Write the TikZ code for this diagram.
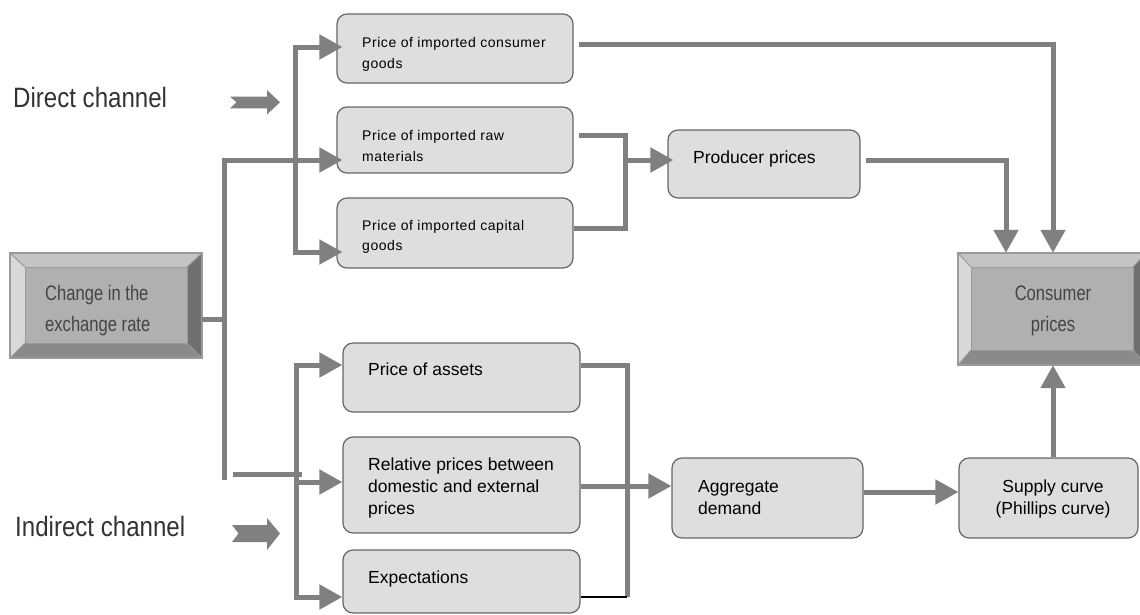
\documentclass[tikz,border=0pt]{standalone}
\usepackage{fontspec}
\setmainfont{Liberation Sans}
\newfontfamily\spc[LetterSpace=4]{Liberation Sans}
\usepackage{graphicx}
\usetikzlibrary{arrows.meta,calc}
\definecolor{conn}{HTML}{808080}
\definecolor{boxfill}{HTML}{DEDEDE}
\definecolor{boxline}{HTML}{666666}
\definecolor{bvtop}{HTML}{C4C4C4}
\definecolor{bvleft}{HTML}{D9D9D9}
\definecolor{bvright}{HTML}{707070}
\definecolor{bvbot}{HTML}{8A8A8A}
\definecolor{bvin}{HTML}{B0B0B0}
\definecolor{bvline}{HTML}{9A9A9A}
\definecolor{bvtext}{HTML}{454545}
\definecolor{chtext}{HTML}{333333}
\newcommand\twol[2]{\vtop{\hbox{#1}\hbox{#2}}}
\newcommand\threel[3]{\vtop{\hbox{#1}\hbox{#2}\hbox{#3}}}
\newcommand\twoc[2]{\vtop{\halign{\hfil##\hfil\cr#1\cr#2\cr}}}
\newcommand\nar[1]{\scalebox{0.79}[1]{#1}}
\newcommand\wide[1]{\scalebox{0.86}[1]{#1}}
% bevel faces: x1 y1 x2 y2 (outer)  a1 b1 a2 b2 (inner)
\newcommand\bevfaces[8]{%
  \fill[bvtop] (#1,#2) -- (#3,#2) -- (#7,#6) -- (#5,#6) -- cycle;
  \fill[bvleft] (#1,#2) -- (#5,#6) -- (#5,#8) -- (#1,#4) -- cycle;
  \fill[bvright] (#3,#2) -- (#3,#4) -- (#7,#8) -- (#7,#6) -- cycle;
  \fill[bvbot] (#1,#4) -- (#3,#4) -- (#7,#8) -- (#5,#8) -- cycle;
  \draw[bvline, line width=1pt] (#1,#2) -- (#5,#6) (#3,#2) -- (#7,#6) (#1,#4) -- (#5,#8) (#3,#4) -- (#7,#8);
  \draw[bvline, line width=1.2pt] (#1,#2) rectangle (#3,#4);
  \filldraw[fill=bvin, draw=bvline, line width=1pt] (#5,#6) rectangle (#7,#8);
}
\tikzset{
  box/.style={draw=boxline, fill=boxfill, line width=1.2pt, rounded corners=10pt, inner sep=0pt},
  frame/.style={inner sep=0pt, draw=none},
  conn/.style={draw=conn, line width=5pt, line join=miter},
  arr/.style={conn, -{Triangle[length=23pt,width=24pt]}},
  arrin/.style={arr, shorten >=-6pt},
  gap/.style={shorten <=5pt},
  small/.style={inner sep=0pt, font=\spc\fontsize{14}{20.5}\selectfont},
  big/.style={inner sep=0pt, font=\fontsize{17.5}{22.3}\selectfont},
  bev/.style={inner sep=0pt, text=bvtext, font=\fontsize{21}{31}\selectfont},
  chan/.style={inner sep=0pt, text=chtext, font=\fontsize{28}{30}\selectfont},
  blockarrow/.style={fill=conn},
}
\begin{document}
\begin{tikzpicture}[x=1pt,y=-1pt]
\useasboundingbox (0,0) rectangle (1140,614);

% bevel boxes
\bevfaces{10}{253}{202}{358}{25}{267}{187}{343}
\node[frame, minimum width=192pt, minimum height=105pt] (chg) at (106,305.5) {};
\bevfaces{958}{253}{1146}{365}{971}{267}{1133}{350}
\node[frame, minimum width=188pt, minimum height=112pt] (cp) at (1052,309) {};

% rounded boxes
\node[box, minimum width=236pt, minimum height=69pt] (cg) at (455,48.5) {};
\node[box, minimum width=236pt, minimum height=66pt] (rm) at (455,140) {};
\node[box, minimum width=236pt, minimum height=70pt] (cap) at (455,233) {};
\node[box, minimum width=192pt, minimum height=68pt] (pp) at (764,164) {};
\node[box, minimum width=237pt, minimum height=69pt] (pa) at (461.5,377.5) {};
\node[box, minimum width=237pt, minimum height=96pt] (rel) at (461.5,485) {};
\node[box, minimum width=237pt, minimum height=63pt] (exp) at (461.5,581.5) {};
\node[box, minimum width=191pt, minimum height=80pt] (ad) at (767.5,498) {};
\node[box, minimum width=179pt, minimum height=80pt] (sc) at (1048.5,498) {};

% texts
\node[small, anchor=base west] (cgT) at (362,47.5) {\twol{Price of imported consumer}{goods}};
\node[small, anchor=base west] (rmT) at (362,140.5) {\twol{Price of imported raw}{materials}};
\node[small, anchor=base west] (capT) at (362,230) {\twol{Price of imported capital}{goods}};
\node[big, anchor=base west] (ppT) at (693,163) {Producer prices};
\node[big, anchor=base west] (paT) at (368,375) {Price of assets};
\node[big, anchor=base west] (relT) at (368,470) {\threel{Relative prices between}{domestic and external}{prices}};
\node[big, anchor=base west] (expT) at (368,583) {Expectations};
\node[big, anchor=base west] (adT) at (698,492) {\twol{Aggregate}{demand}};
\node[big, anchor=base] (scT) at (1053,492) {\twoc{Supply curve}{(Phillips curve)}};
\node[bev, anchor=base west] (chgT) at (45,300) {\twol{\nar{Change in the}}{\nar{exchange rate}}};
\node[bev, anchor=base] (cpT) at (1053,300) {\twoc{\nar{Consumer}}{\nar{prices}}};
\node[chan, anchor=base west] (dirT) at (13,107.3) {\wide{Direct channel}};
\node[chan, anchor=base west] (indT) at (15,536.7) {\wide{Indirect channel}};

% block arrows
\fill[blockarrow] (230,96.5) -- (267,96.5) -- (267,90) -- (280,102.3) -- (267,114.5) -- (267,108.3) -- (230,108.3) -- (236.5,102.3) -- cycle;
\fill[blockarrow] (232,525) -- (267,525) -- (267,518) -- (280,533.5) -- (267,550) -- (267,542) -- (232,542) -- (238.5,533.5) -- cycle;

% junction coordinates
\coordinate (m1) at (224.5,319);
\coordinate (mT) at (224.5,160);
\coordinate (mB) at (224.5,480);
\coordinate (h1) at (233,474.3);
\coordinate (h2) at (302,474.3);
\coordinate (tT) at (295,47);
\coordinate (tB) at (295,252);
\coordinate (p1) at (625,135);
\coordinate (p2) at (625,228);
\coordinate (p3) at (625,160);
\coordinate (c1) at (1053,44);
\coordinate (c2) at (1006,160);
\coordinate (e1) at (296,365);
\coordinate (e2) at (296,597);
\coordinate (e3) at (296,482);
\coordinate (d1) at (627,365);
\coordinate (d2) at (627,597);
\coordinate (d3) at (627,486);
\coordinate (f1) at (900,492);
\coordinate (g1) at (1053,400);

% connectors
\draw[conn] (chg.east |- m1) -- (m1);
\draw[arrin] (mB) -- (mT) -- (rm.west |- mT);
\draw[conn] (h1) -- (h2);
\draw[arrin] (tB) -- (tT) -- (cg.west |- tT);
\draw[arrin] (tT) -- (tB) -- (cap.west |- tB);
\draw[conn, gap] (rm.east |- p1) -- (p1) -- (p2) -- (cap.east |- p2);
\draw[arrin] (p3) -- (pp.west |- p3);
\draw[arr, gap] (cg.east |- c1) -- (c1) -- (c1 |- cp.north);
\draw[arr, gap] (pp.east |- c2) -- (c2) -- (c2 |- cp.north);
\draw[arr] (e2) -- (e1) -- (pa.west |- e1);
\draw[arr] (e1) -- (e2) -- (exp.west |- e2);
\draw[arr] (e3) -- (rel.west |- e3);
\draw[conn] (pa.east |- d1) -- (d1) -- (d2);
\draw[black, line width=1.5pt] (d2) -- (exp.east |- d2);
\draw[arr] (rel.east |- d3) -- (ad.west |- d3);
\draw[arr] (ad.east |- f1) -- (sc.west |- f1);
\draw[arr] (sc.north -| g1) -- (cp.south -| g1);
\end{tikzpicture}
\end{document}
